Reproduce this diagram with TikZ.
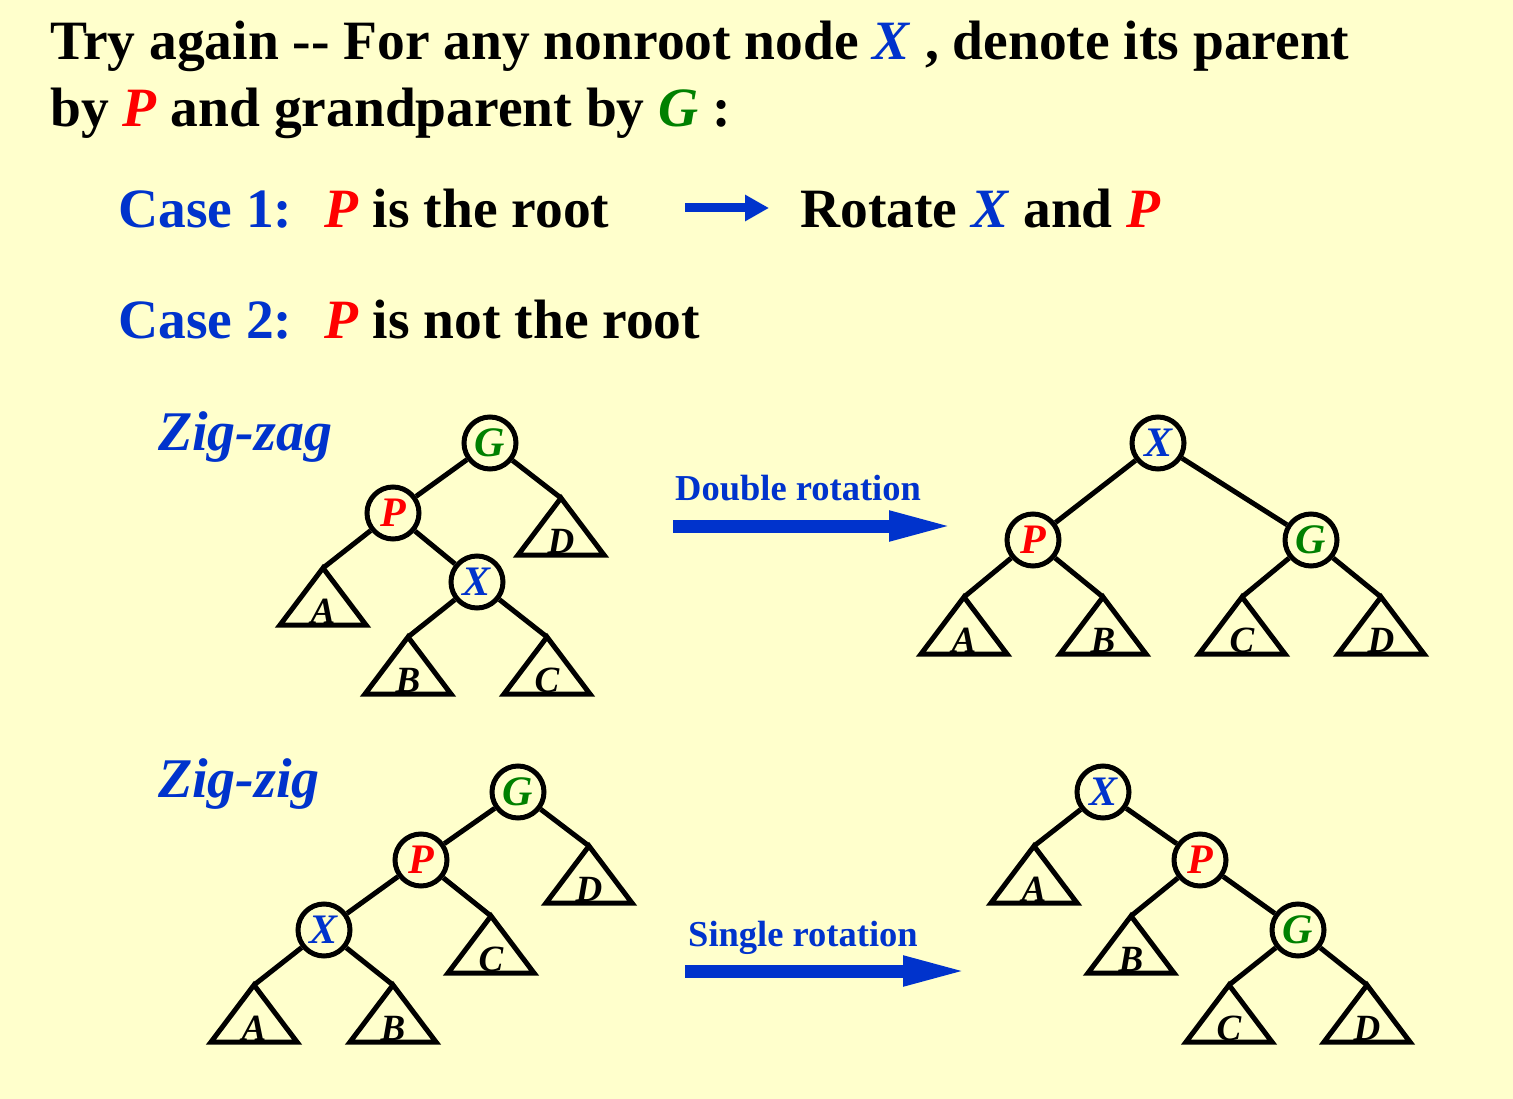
\documentclass[tikz,border=0pt]{standalone}
\usepackage{fontspec}
\setmainfont{Liberation Serif}
\usepackage{tikz}
\usetikzlibrary{arrows.meta}
\definecolor{bgcolor}{HTML}{FFFFCC}
\definecolor{xblue}{HTML}{0033CC}
\definecolor{pred}{HTML}{FF0000}
\definecolor{ggreen}{HTML}{008000}

\begin{document}
\begin{tikzpicture}[
    x=1pt, y=-1pt,
    tnode/.style={circle, draw, line width=5pt, minimum size=52pt, inner sep=0pt,
                  fill=bgcolor, font=\fontsize{42}{42}\selectfont\bfseries\itshape},
    xnode/.style={tnode, text=xblue},
    pnode/.style={tnode, text=pred},
    gnode/.style={tnode, text=ggreen},
    edge/.style={line width=5pt},
    tri/.style={line width=5pt, line join=miter},
    sublabel/.style={anchor=base, inner sep=0pt, font=\fontsize{37}{37}\selectfont\bfseries\itshape},
    headline/.style={anchor=base west, inner sep=0pt, font=\fontsize{55.5}{66}\selectfont\bfseries},
    casename/.style={anchor=base west, inner sep=0pt, text=xblue,
                     font=\fontsize{56}{56}\selectfont\bfseries\itshape},
    rotlabel/.style={anchor=base west, inner sep=0pt, text=xblue,
                     font=\fontsize{36.5}{36.5}\selectfont\bfseries},
    bigarrow/.style={draw=xblue, line width=13pt, -{Triangle[length=66pt, width=27pt]}}
]
    % Background
    \fill[bgcolor] (0,0) rectangle (1513,1099);
    \useasboundingbox (0,0) rectangle (1513,1099);

    % Heading
    \node[headline] (head1) at (50,60)
        {Try again {-}{-} For any nonroot node \textcolor{xblue}{\textit{X}} , denote its parent};
    \node[headline] (head2) at (50,127)
        {by \textcolor{pred}{\textit{P}} and grandparent by \textcolor{ggreen}{\textit{G}} :};

    % Cases
    \node[headline] (case1) at (118,228)
        {\textcolor{xblue}{Case 1:}~ \textcolor{pred}{\textit{P}} is the root};
    \node[headline] (rotate) at (800,228)
        {Rotate \textcolor{xblue}{\textit{X}} and \textcolor{pred}{\textit{P}}};
    \coordinate (c1a) at (685,208);
    \coordinate (c1b) at (769,208);
    \draw[draw=xblue, line width=9pt, -{Triangle[length=24pt, width=25pt]}] (c1a) -- (c1b);
    \node[headline] (case2) at (118,339)
        {\textcolor{xblue}{Case 2:}~ \textcolor{pred}{\textit{P}} is not the root};

    % Zig-zag
    \node[casename] (zigzag) at (158,450) {Zig-zag};
    \node[gnode] (zgG) at (490,443) {G};
    \node[pnode] (zgP) at (393,513) {P};
    \node[xnode] (zgX) at (477,582) {X};

    \node[rotlabel] (dbl) at (675,500) {Double rotation};
    \coordinate (dbla) at (673,526);
    \coordinate (dblb) at (955,526);
    \draw[bigarrow] (dbla) -- (dblb);

    \node[xnode] (zrX) at (1158,443) {X};
    \node[pnode] (zrP) at (1033,540) {P};
    \node[gnode] (zrG) at (1311,540) {G};

    % Zig-zig
    \node[casename] (zigzig) at (158,797) {Zig-zig};
    \node[gnode] (ziG) at (518,792) {G};
    \node[pnode] (ziP) at (421,860) {P};
    \node[xnode] (ziX) at (324,930) {X};

    \node[rotlabel] (sgl) at (688,946) {Single rotation};
    \coordinate (sgla) at (685,971);
    \coordinate (sglb) at (969,971);
    \draw[bigarrow] (sgla) -- (sglb);

    \node[xnode] (zsX) at (1103,792) {X};
    \node[pnode] (zsP) at (1200,860) {P};
    \node[gnode] (zsG) at (1298,930) {G};

    % Subtrees
    \foreach \t/\x/\y/\l in {zgA/323/568/A, zgB/408/637/B, zgC/547/637/C, zgD/561/498/D,
                             zrA/964/597/A, zrB/1103/597/B, zrC/1242/597/C, zrD/1381/597/D,
                             ziA/254/985/A, ziB/393/985/B, ziC/491/916/C, ziD/589/846/D,
                             zsA/1034/846/A, zsB/1131/916/B, zsC/1229/985/C, zsD/1367/985/D} {
        \coordinate (\t) at (\x,\y);
        \draw[tri] (\t) -- ++(-43,57) -- ++(86,0) -- cycle;
        \node[sublabel] at (\x,\y+55) {\l};
    }

    % Edges
    \draw[edge] (zgG) -- (zgP);
    \draw[edge] (zgG) -- (zgD);
    \draw[edge] (zgP) -- (zgA);
    \draw[edge] (zgP) -- (zgX);
    \draw[edge] (zgX) -- (zgB);
    \draw[edge] (zgX) -- (zgC);

    \draw[edge] (zrX) -- (zrP);
    \draw[edge] (zrX) -- (zrG);
    \draw[edge] (zrP) -- (zrA);
    \draw[edge] (zrP) -- (zrB);
    \draw[edge] (zrG) -- (zrC);
    \draw[edge] (zrG) -- (zrD);

    \draw[edge] (ziG) -- (ziP);
    \draw[edge] (ziG) -- (ziD);
    \draw[edge] (ziP) -- (ziX);
    \draw[edge] (ziP) -- (ziC);
    \draw[edge] (ziX) -- (ziA);
    \draw[edge] (ziX) -- (ziB);

    \draw[edge] (zsX) -- (zsA);
    \draw[edge] (zsX) -- (zsP);
    \draw[edge] (zsP) -- (zsB);
    \draw[edge] (zsP) -- (zsG);
    \draw[edge] (zsG) -- (zsC);
    \draw[edge] (zsG) -- (zsD);
\end{tikzpicture}
\end{document}
